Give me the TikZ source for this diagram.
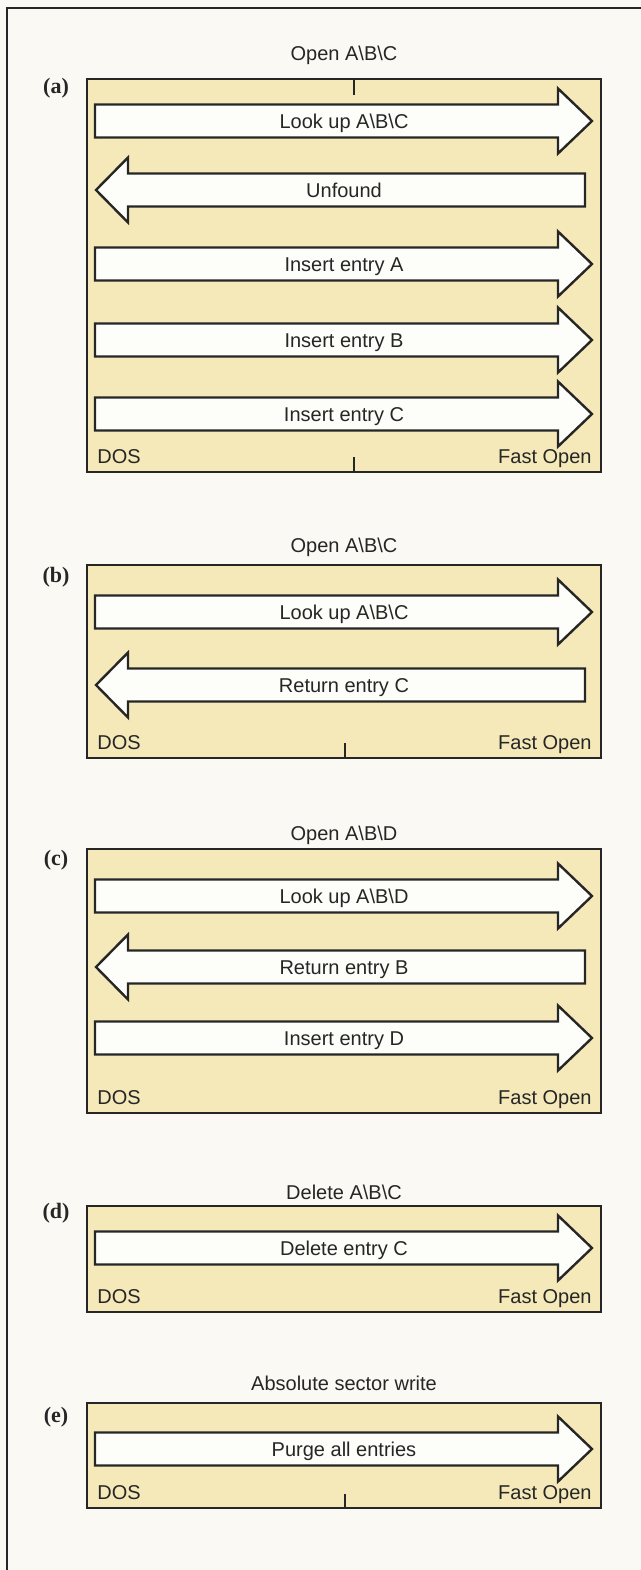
\documentclass[tikz,border=0pt]{standalone}
\usepackage{fontspec}
\setmainfont{Liberation Sans}
\newfontfamily\tagfont{Liberation Serif}
\usepackage{xcolor}
\usepackage{tikz}
\usetikzlibrary{positioning}
\definecolor{paperWhite}{RGB}{251,249,243}
\definecolor{panelYellow}{RGB}{245,233,186}
\definecolor{arrowWhite}{RGB}{253,253,250}
\definecolor{inkGray}{RGB}{38,38,38}
\newcommand{\bs}{\textbackslash}
\tikzset{
  frameline/.style={draw=inkGray, line width=0.8pt},
  panel/.style={draw=inkGray, fill=panelYellow, line width=1pt},
  bigarrow/.style={draw=inkGray, fill=arrowWhite, line width=1.2pt, line join=miter},
  msg/.style={font=\fontsize{10}{12}\selectfont, text=inkGray, inner sep=0pt, anchor=base},
  tag/.style={font=\tagfont\bfseries\fontsize{11}{13}\selectfont, text=inkGray, inner sep=0pt},
  tick/.style={draw=inkGray, line width=1pt}
}
\newcommand{\toFast}[3]{%
  \draw[bigarrow] (95,#1-16.5) -- (558,#1-16.5) -- (558,#1-32.5) -- (592,#1)
    -- (558,#1+32.5) -- (558,#1+16.5) -- (95,#1+16.5) -- cycle;
  \node[msg] (#2) at (344,#1+7) {#3};}
\newcommand{\toDos}[3]{%
  \draw[bigarrow] (585,#1-16.5) -- (128,#1-16.5) -- (128,#1-32.5) -- (96,#1)
    -- (128,#1+32.5) -- (128,#1+16.5) -- (585,#1+16.5) -- cycle;
  \node[msg] (#2) at (344,#1+7) {#3};}

\begin{document}
\begin{tikzpicture}[x=0.5pt,y=-0.5pt]
\useasboundingbox[fill=paperWhite] (0,0) rectangle (641,1570);
\draw[frameline] (7,1570) -- (7,8) -- (641,8);
\foreach \p/\top/\bot/\tagy in {a/79/472/88, b/565/758/577, c/849/1113/860, d/1206/1312/1213, e/1403/1508/1417} {
  \draw[panel] (87,\top) rectangle (601,\bot);
  \node[tag] (tag-\p) at (56,\tagy) {(\p)};
  \node[msg, anchor=base west] (dos-\p) at (97,\bot-9) {DOS};
  \node[msg, anchor=base east] (fast-\p) at (592,\bot-9) {Fast Open};
}
\node[msg] (title-a) at (344,60) {Open A\bs B\bs C};
\node[msg] (title-b) at (344,552) {Open A\bs B\bs C};
\node[msg] (title-c) at (344,840) {Open A\bs B\bs D};
\node[msg] (title-d) at (344,1199) {Delete A\bs B\bs C};
\node[msg] (title-e) at (344,1390) {Absolute sector write};
\draw[tick] (354,79) -- (354,95);
\draw[tick] (354,457) -- (354,472);
\draw[tick] (345,743) -- (345,758);
\draw[tick] (345,1494) -- (345,1508);
\toFast{121}{lookup-a}{Look up A\bs B\bs C}
\toDos{190}{unfound-a}{Unfound}
\toFast{264}{insA-a}{Insert entry A}
\toFast{340}{insB-a}{Insert entry B}
\toFast{414}{insC-a}{Insert entry C}
\toFast{612}{lookup-b}{Look up A\bs B\bs C}
\toDos{685}{retC-b}{Return entry C}
\toFast{896}{lookup-c}{Look up A\bs B\bs D}
\toDos{967}{retB-c}{Return entry B}
\toFast{1038}{insD-c}{Insert entry D}
\toFast{1248}{delC-d}{Delete entry C}
\toFast{1449}{purge-e}{Purge all entries}
\end{tikzpicture}
\end{document}
